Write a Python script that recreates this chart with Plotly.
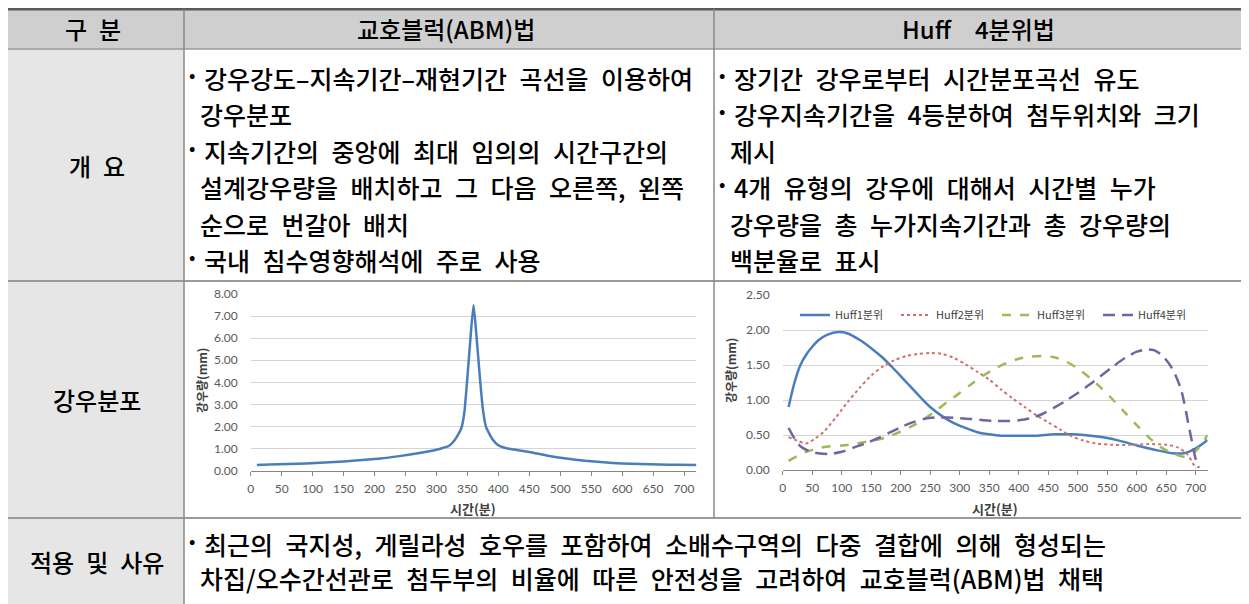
import plotly.graph_objects as go

# ---------------- data ----------------
abm_time = [10, 30, 60, 90, 120, 150, 180, 210, 240, 270, 300, 310, 320, 330, 340, 345, 350,
            355, 360, 365, 370, 375, 380, 390, 400, 410, 420, 450, 480, 510, 540, 570, 600,
            630, 660, 690, 720]
abm_rain = [0.26, 0.28, 0.30, 0.33, 0.37, 0.42, 0.48, 0.55, 0.66, 0.79, 0.95, 1.03, 1.12, 1.40,
            1.90, 2.60, 4.20, 6.00, 7.50, 6.00, 4.30, 2.80, 2.00, 1.45, 1.15, 1.04, 0.98, 0.85,
            0.68, 0.55, 0.45, 0.38, 0.33, 0.30, 0.28, 0.27, 0.26]

huff1_time = [10, 20, 30, 40, 50, 60, 75, 95, 110, 130, 150, 170, 190, 210, 230, 250, 270, 290,
              310, 330, 350, 370, 400, 430, 460, 490, 510, 540, 570, 600, 630, 660, 680, 700, 720]
huff1_rain = [0.90, 1.25, 1.50, 1.65, 1.76, 1.85, 1.93, 1.97, 1.95, 1.86, 1.74, 1.60, 1.43, 1.25,
              1.07, 0.90, 0.77, 0.67, 0.60, 0.54, 0.51, 0.49, 0.49, 0.49, 0.51, 0.51, 0.50, 0.47,
              0.42, 0.35, 0.29, 0.24, 0.24, 0.31, 0.43]

huff2_time = [10, 25, 40, 55, 70, 90, 110, 130, 150, 170, 190, 210, 230, 250, 270, 290, 310, 330,
              350, 370, 390, 410, 430, 450, 470, 490, 510, 530, 560, 590, 620, 650, 670, 685, 700]
huff2_rain = [0.47, 0.42, 0.38, 0.45, 0.55, 0.75, 0.97, 1.17, 1.35, 1.48, 1.57, 1.63, 1.66, 1.67,
              1.66, 1.60, 1.51, 1.40, 1.29, 1.15, 1.02, 0.90, 0.78, 0.68, 0.58, 0.48, 0.42, 0.38,
              0.36, 0.36, 0.37, 0.36, 0.32, 0.23, 0.02]

huff3_time = [10, 25, 40, 60, 80, 100, 120, 140, 160, 180, 200, 220, 240, 260, 280, 300, 320, 340,
              360, 380, 400, 420, 440, 460, 480, 500, 520, 540, 560, 580, 600, 620, 640, 660, 680,
              700, 720]
huff3_rain = [0.13, 0.20, 0.26, 0.31, 0.34, 0.35, 0.37, 0.40, 0.43, 0.48, 0.55, 0.63, 0.73, 0.85,
              0.98, 1.10, 1.23, 1.35, 1.45, 1.53, 1.59, 1.62, 1.63, 1.61, 1.55, 1.45, 1.32, 1.17,
              1.00, 0.82, 0.64, 0.47, 0.33, 0.24, 0.19, 0.27, 0.50]

huff4_time = [10, 20, 30, 45, 60, 80, 100, 120, 140, 160, 180, 200, 220, 240, 260, 280, 300, 320,
              340, 360, 380, 400, 420, 440, 460, 480, 500, 520, 540, 560, 580, 600, 615, 630, 645,
              660, 675, 690, 700, 705]
huff4_rain = [0.60, 0.45, 0.34, 0.27, 0.24, 0.23, 0.26, 0.32, 0.38, 0.45, 0.53, 0.61, 0.68, 0.73,
              0.75, 0.75, 0.74, 0.73, 0.71, 0.70, 0.70, 0.71, 0.74, 0.80, 0.89, 0.99, 1.10, 1.22,
              1.35, 1.48, 1.60, 1.69, 1.72, 1.71, 1.62, 1.45, 1.15, 0.55, 0.15, 0.03]

huff_names = ["Huff1분위", "Huff2분위", "Huff3분위", "Huff4분위"]

x_ticks = list(range(0, 701, 50))
abm_y_ticks = [0, 1, 2, 3, 4, 5, 6, 7, 8]
huff_y_ticks = [0, 0.5, 1.0, 1.5, 2.0, 2.5]

header_labels = ["구 분", "교호블럭(ABM)법", "Huff  4분위법"]
row_labels = ["개 요", "강우분포", "적용 및 사유"]
abm_lines = ["• 강우강도–지속기간–재현기간 곡선을 이용하여", "강우분포",
             "• 지속기간의 중앙에 최대 임의의 시간구간의",
             "설계강우량을 배치하고 그 다음 오른쪽, 왼쪽", "순으로 번갈아 배치",
             "• 국내 침수영향해석에 주로 사용"]
huff_lines = ["• 장기간 강우로부터 시간분포곡선 유도", "• 강우지속기간을 4등분하여 첨두위치와 크기",
              "제시", "• 4개 유형의 강우에 대해서 시간별 누가", "강우량을 총 누가지속기간과 총 강우량의",
              "백분율로 표시"]
apply_lines = ["• 최근의 국지성, 게릴라성 호우를 포함하여 소배수구역의 다중 결합에 의해 형성되는",
               "차집/오수간선관로 첨두부의 비율에 따른 안전성을 고려하여 교호블럭(ABM)법 채택"]
x_title = "시간(분)"
y_title = "강우량(mm)"

# ---------------- layout helpers ----------------
# the page body has an 8px margin, so the figure is drawn 8px in from the window corner
OX, OY = 8, 8
W, H = 1241, 596
def px(x):
    return (x - OX) / W
def py(y):
    return 1 - (y - OY) / H

KR = "Noto Sans CJK KR"
TICK_FONT = dict(family="Lato, Open Sans, sans-serif", size=12, color="#595959")

def wide(s):
    # the source document uses wide (half-em) word spacing
    return s.replace(" ", "\u2002")

fig = go.Figure()

fig.add_trace(go.Scatter(x=abm_time, y=abm_rain, mode="lines", showlegend=False,
                         line=dict(color="#4a7ebb", width=2.5, shape="spline", smoothing=0.5),
                         xaxis="x", yaxis="y"))

huff_styles = [
    dict(color="#4a7ebb", width=2.5, dash="solid"),
    dict(color="#d0706e", width=2, dash="dot"),
    dict(color="#9bbb59", width=2.5, dash="dash"),
    dict(color="#7263a3", width=2.5, dash="12px,7px"),
]
for name, t, v, st in zip(huff_names, [huff1_time, huff2_time, huff3_time, huff4_time],
                          [huff1_rain, huff2_rain, huff3_rain, huff4_rain], huff_styles):
    fig.add_trace(go.Scatter(x=t, y=v, mode="lines", name=name,
                             line=dict(shape="spline", smoothing=0.8, **st),
                             xaxis="x2", yaxis="y2"))

def xaxis_cfg(domain, anchor):
    return dict(domain=domain, anchor=anchor, range=[0, 720], tickvals=x_ticks,
                ticks="outside", ticklen=4, tickcolor="#868686", showline=True,
                linecolor="#868686", linewidth=1, showgrid=False, zeroline=False,
                tickfont=TICK_FONT, ticklabelstandoff=3, fixedrange=True, automargin=False)

def yaxis_cfg(domain, anchor, rng, ticks, fmt):
    return dict(domain=domain, anchor=anchor, range=rng, tickvals=ticks, tickformat=fmt,
                showgrid=True, gridcolor="#d4d4d4", gridwidth=1, showline=False,
                zeroline=False, ticks="", tickfont=TICK_FONT, ticklabelstandoff=12,
                fixedrange=True, automargin=False)

fig.update_layout(
    width=W, height=H, margin=dict(l=0, r=0, t=0, b=0, autoexpand=False),
    paper_bgcolor="white", plot_bgcolor="white",
    xaxis=xaxis_cfg([px(250.7), px(696.4)], "y"),
    yaxis=yaxis_cfg([py(470.7), py(294)], "x", [0, 8], abm_y_ticks, ".2f"),
    xaxis2=xaxis_cfg([px(782.7), px(1207.6)], "y2"),
    yaxis2=yaxis_cfg([py(470), py(295)], "x2", [0, 2.5], huff_y_ticks, ".2f"),
    legend=dict(orientation="h", x=px(795), y=py(315), xanchor="left", yanchor="middle",
                bgcolor="rgba(0,0,0,0)", entrywidth=56, entrywidthmode="pixels",
                itemwidth=30, font=dict(family=KR, size=11, color="#404040")),
)

# ---------------- table shapes ----------------
shapes = []
def rect(x0, y0, x1, y1, color):
    shapes.append(dict(type="rect", xref="paper", yref="paper", x0=px(x0), x1=px(x1),
                       y0=py(y1), y1=py(y0), fillcolor=color, line=dict(width=0), layer="below"))
def hline(y, x0, x1, color, w):
    shapes.append(dict(type="line", xref="paper", yref="paper", x0=px(x0), x1=px(x1),
                       y0=py(y), y1=py(y), line=dict(color=color, width=w)))
def vline(x, y0, y1, color, w):
    shapes.append(dict(type="line", xref="paper", yref="paper", x0=px(x), x1=px(x),
                       y0=py(y0), y1=py(y1), line=dict(color=color, width=w)))

RIGHT, BOTTOM = OX + W, OY + H
rect(5, 9, RIGHT, 49, "#cfcfcf")
rect(5, 49, 184, BOTTOM, "#e6e6e6")
hline(9, 5, RIGHT, "#5a5a5a", 3)
hline(49, 5, RIGHT, "#9a9a9a", 1.5)
hline(281, 5, RIGHT, "#9a9a9a", 2)
hline(518, 5, RIGHT, "#9a9a9a", 2)
vline(184, 9, BOTTOM, "#8a8a8a", 1.5)
vline(714, 9, 518, "#8a8a8a", 1.5)
fig.update_layout(shapes=shapes)

# ---------------- text ----------------
ann = []
def text(s, x, y, size=25, anchor="left", color="black", weight=500, angle=0, family=KR):
    ann.append(dict(text=s, x=px(x), y=py(y), xref="paper", yref="paper", showarrow=False,
                    xanchor=anchor, yanchor="middle", textangle=angle,
                    font=dict(family=family, size=size, color=color, weight=weight)))

def body(s, x_bullet, y):
    # bullet items: small raised dot, text after it; continuation lines slightly indented
    if s.startswith("• "):
        text("•", x_bullet + 3, y - 4, 18, "center")
        text(wide(s[2:]), x_bullet + 13, y)
    else:
        text(wide(s), x_bullet + 9, y)

text(wide(header_labels[0]), 93, 29, 24, "center")
text(header_labels[1], 446, 29, 24, "center")
text(wide(header_labels[2]), 978, 29, 24, "center")
text(wide(row_labels[0]), 97, 165, 24, "center")
text(row_labels[1], 97, 399, 24, "center")
text(wide(row_labels[2]), 97, 561, 24, "center")

for i, s in enumerate(abm_lines):
    body(s, 189, 78 + 36.4 * i)
for i, s in enumerate(huff_lines):
    body(s, 719, 78 + 36.4 * i)
for i, s in enumerate(apply_lines):
    body(s, 189, 544 + 34 * i)

# chart axis titles
text(x_title, 473, 508, 13, "center", "#404040", "bold")
text(x_title, 995, 508, 13, "center", "#404040", "bold")
text(y_title, 201, 381, 12, "center", "#404040", "bold", -90)
text(y_title, 730, 371, 12, "center", "#404040", "bold", -90)

fig.update_layout(annotations=ann)

fig.write_html("out.html")
